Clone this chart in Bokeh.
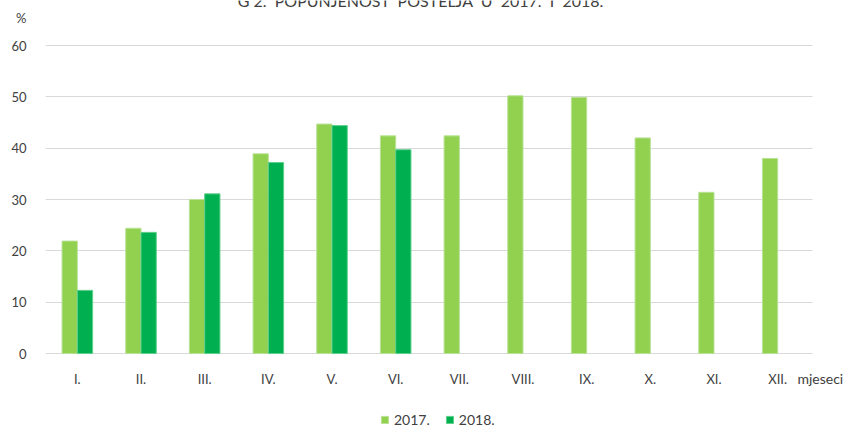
from bokeh.plotting import figure
from bokeh.models import Range1d, Label, Legend, LegendItem, ColumnDataSource, FixedTicker
from bokeh.embed import file_html
from bokeh.resources import INLINE

months = ["I.", "II.", "III.", "IV.", "V.", "VI.", "VII.", "VIII.", "IX.", "X.", "XI.", "XII."]
y2017 = [21.9, 24.4, 30.0, 38.9, 44.7, 42.4, 42.4, 50.2, 49.9, 42.0, 31.4, 38.0]
y2018 = [12.3, 23.6, 31.1, 37.2, 44.4, 39.7]
yticks = [0, 10, 20, 30, 40, 50, 60]
y_unit = "%"
x_unit = "mjeseci"
series_labels = ["2017.", "2018."]
title_text = "G\u00a02.\u00a0\u00a0POPUNJENOST\u00a0\u00a0POSTELJA\u00a0\u00a0U\u00a0\u00a02017.\u00a0\u00a0I\u00a0\u00a02018."

FONT = "Lato"
TXT = "#404040"
C17 = "#92D050"
C18 = "#00B050"
BW = 0.24  # bar width (fraction of a month slot)

centers = [i + 0.5 for i in range(len(months))]
src17 = ColumnDataSource(dict(x=[c - BW / 2 for c in centers], v=y2017))
src18 = ColumnDataSource(dict(x=[c + BW / 2 for c in centers[:len(y2018)]], v=y2018))

# frame spans the full height and reaches the right edge;
# room above 60 for title/unit, below 0 for labels/legend, right for "mjeseci"
Y_TOP = 68.77
Y_BOTTOM = -14.61
X_END = len(months) + 0.785
p = figure(x_range=Range1d(0, X_END), y_range=Range1d(Y_BOTTOM, Y_TOP),
           width=859, height=428, output_backend="svg", toolbar_location=None,
           min_border_left=45, min_border_right=0, min_border_top=0, min_border_bottom=0)
p.outline_line_color = None
p.background_fill_color = "white"

r1 = p.vbar(x="x", top="v", bottom=0, width=BW, source=src17, fill_color=C17,
            line_color="#b9e296", line_width=1)
r2 = p.vbar(x="x", top="v", bottom=0, width=BW, source=src18, fill_color=C18,
            line_color="#5fcf8c", line_width=1)

p.xgrid.grid_line_color = None
p.ygrid.ticker = FixedTicker(ticks=yticks)
p.ygrid.grid_line_color = "#d9d9d9"
p.ygrid.grid_line_width = 1
for g in p.ygrid:
    if "cross_bounds" in g.properties():
        g.cross_bounds = (0, len(months) + 0.05)

# y axis: numbers plus the unit label "%" above them
unit_pos = 65.3
p.yaxis.ticker = FixedTicker(ticks=yticks + [unit_pos])
p.yaxis.major_label_overrides = {unit_pos: y_unit}
p.yaxis.axis_line_color = None
p.yaxis.major_tick_line_color = None
p.yaxis.minor_tick_line_color = None
p.yaxis.major_tick_in = 0
p.yaxis.major_tick_out = 0
p.yaxis.major_label_standoff = 19
p.yaxis.major_label_text_font = FONT
p.yaxis.major_label_text_font_size = "13px"
p.yaxis.major_label_text_color = TXT

# x axis drawn at y = 0 with month names
p.xaxis.fixed_location = 0
p.xaxis.ticker = FixedTicker(ticks=centers)
p.xaxis.major_label_overrides = {c: m for c, m in zip(centers, months)}
p.xaxis.axis_line_color = None
p.xaxis.major_tick_line_color = None
p.xaxis.minor_tick_line_color = None
p.xaxis.major_tick_in = 0
p.xaxis.major_tick_out = 0
p.xaxis.major_label_standoff = 17
p.xaxis.major_label_text_font = FONT
p.xaxis.major_label_text_font_size = "13px"
p.xaxis.major_label_text_color = TXT

p.add_layout(Label(x=len(months) - 0.19, y=-4.95, text=x_unit, text_align="left",
                   text_baseline="middle", text_font=FONT, text_font_size="14px",
                   text_color=TXT))
p.add_layout(Label(x=5.89, y=Y_TOP, text=title_text, text_align="center", text_baseline="middle",
                   text_font=FONT, text_font_size="16px", text_color=TXT))

legend = Legend(items=[LegendItem(label=series_labels[0], renderers=[r1]),
                       LegendItem(label=series_labels[1], renderers=[r2])],
                orientation="horizontal", location=(335, 0),
                border_line_color=None, background_fill_alpha=0, padding=0, margin=0,
                glyph_width=9, glyph_height=9, label_height=14,
                label_text_font=FONT, label_text_font_size="14px",
                label_text_color=TXT, spacing=15, label_standoff=5)
p.add_layout(legend)

open("out.html", "w").write(file_html(p, INLINE))
